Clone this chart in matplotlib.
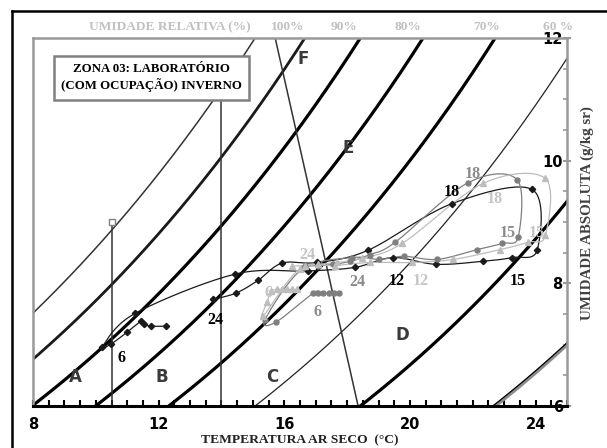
import numpy as np
import matplotlib
matplotlib.use("Agg")
import matplotlib.pyplot as plt
from matplotlib.lines import Line2D
from matplotlib.ticker import MultipleLocator

# ---------------- data ----------------
hours = list(range(1, 25))

# black series (diamonds)
black_T = [12.24, 11.76, 11.54, 11.44, 10.99, 10.48, 10.20, 11.25, 14.43, 16.76, 18.25, 19.46,
           20.83, 22.33, 23.25, 24.05, 23.89, 21.34, 18.67, 17.04, 15.93, 15.17, 14.46, 13.73]
black_w = [7.30, 7.30, 7.33, 7.38, 7.20, 7.01, 6.96, 7.51, 8.15, 8.20, 8.26, 8.42,
           8.31, 8.36, 8.42, 8.54, 9.53, 9.30, 8.54, 8.34, 8.33, 8.05, 7.84, 7.74]

# dark grey series (circles)
dgrey_T = [17.75, 17.59, 17.43, 17.24, 17.08, 16.92, 15.74, 15.39, 16.57, 18.16, 19.02, 19.82,
           20.87, 22.14, 22.94, 23.45, 23.41, 21.85, 19.53, 18.73, 18.10, 17.55, 17.08, 16.66]
dgrey_w = [7.84, 7.84, 7.84, 7.84, 7.84, 7.84, 7.37, 7.41, 8.23, 8.42, 8.39, 8.44,
           8.39, 8.55, 8.65, 8.76, 9.69, 9.64, 8.67, 8.47, 8.36, 8.31, 8.29, 8.28]

# light grey series (triangles)
lgrey_T = [16.41, 16.25, 16.09, 15.93, 15.77, 15.58, 15.45, 15.32, 16.50, 17.62, 18.73, 20.07,
           21.38, 22.87, 23.76, 24.31, 24.31, 22.33, 19.75, 18.48, 17.68, 17.08, 16.66, 16.25]
lgrey_w = [7.90, 7.90, 7.90, 7.90, 7.90, 7.87, 7.69, 7.46, 8.24, 8.29, 8.34, 8.34,
           8.39, 8.55, 8.67, 8.78, 9.71, 9.63, 8.65, 8.41, 8.34, 8.31, 8.29, 8.28]

# hour labels: (hour, dx px, dy px)
black_labels = [(6, 11, 14), (12, 4, 23), (15, 6, 23), (18, 0, -12), (24, 2, 21)]
dgrey_labels = [(6, 4, 19), (15, 5, -10), (18, 5, -9), (24, 52, 16)]
lgrey_labels = [(6, -3, 2), (12, 9, 19), (15, 9, -9), (18, 12, 16), (24, 15, -11)]

# relative humidity curves (%)
rh_levels = [100, 90, 80, 70, 60, 50, 40, 30]
rh_top_labels = ["100%", "90%", "80%", "70%", "60 %"]
rh_top_label_T = [16.12, 17.90, 19.94, 22.43, 24.72]

# comfort zone letters
zone_names = ["A", "B", "C", "D", "E", "F"]
zone_T = [9.34, 12.10, 15.61, 19.75, 18.03, 16.60]
zone_w = [6.47, 6.47, 6.47, 7.15, 10.21, 11.66]

# zone boundary lines
boundary_T = [15.71, 18.35]
boundary_w = [12.0, 6.0]
limit_T_high = 14.0
limit_T_low = 10.5
limit_w_low = 9.0

x_ticks = [8, 12, 16, 20, 24]
y_ticks = [6, 8, 10, 12]

P_ATM = 90.5  # kPa


def sat_pressure(t):
    return 0.6412 * np.exp(0.0652 * t)


def sat_ratio(t):
    ps = sat_pressure(t)
    return 622.0 * ps / (P_ATM - ps)


def smooth(xs, ys, steps=20):
    p = np.column_stack([xs, ys]).astype(float)
    pe = np.vstack([p[0], p, p[-1]])
    t = np.linspace(0, 1, steps, endpoint=False)[:, None]
    out = []
    for i in range(len(p) - 1):
        p0, p1, p2, p3 = pe[i], pe[i + 1], pe[i + 2], pe[i + 3]
        seg = 0.5 * (2 * p1 + (-p0 + p2) * t + (2 * p0 - 5 * p1 + 4 * p2 - p3) * t ** 2
                     + (-p0 + 3 * p1 - 3 * p2 + p3) * t ** 3)
        out.append(seg)
    out.append(p[-1][None, :])
    return np.vstack(out)


SERIF = "Liberation Serif"
SANS = "DejaVu Sans"

W, H = 607, 448
fig = plt.figure(figsize=(W / 100, H / 100), dpi=100)
ax = fig.add_axes([33 / W, 1 - 406 / H, 534 / W, 368 / H])
ax.set_xlim(8, 25)
ax.set_ylim(6, 12)

# relative humidity curves
rh_style = {100: ("#333333", 1.1), 90: ("#1a1a1a", 2.0), 80: ("black", 2.3), 70: ("black", 2.3),
            60: ("black", 2.3), 50: ("#222222", 0.9), 40: ("black", 2.3), 30: ("#8c8c8c", 2.6)}
tt = np.linspace(5, 26, 400)
for rh in rh_levels:
    col, lw = rh_style[rh]
    ax.plot(tt, rh / 100 * sat_ratio(tt), color=col, lw=lw, zorder=2, solid_capstyle="butt")
    if rh == 30:
        ax.plot(tt, rh / 100 * sat_ratio(tt) + 0.03, color="black", lw=0.9, zorder=2)

# zone limits
ax.plot(boundary_T, boundary_w, color="#333333", lw=1.1, zorder=2)
ax.plot([limit_T_high, limit_T_high], [6, 11.0], color="#333333", lw=1.1, zorder=2)
ax.plot([limit_T_low, limit_T_low], [6, limit_w_low], color="#333333", lw=1.1, zorder=2)
ax.plot([limit_T_low], [limit_w_low], marker="s", ms=4, mfc="white", mec="#808080",
        mew=1.0, zorder=3)

for name, zt, zw in zip(zone_names, zone_T, zone_w):
    ax.text(zt, zw, name, ha="center", va="center", fontsize=12, fontweight="heavy",
            family=SANS, color="#3a3a3a", zorder=5)

# daily series
series = [
    (black_T, black_w, "#1a1a1a", "D", 3.2, black_labels, "black"),
    (dgrey_T, dgrey_w, "#7f7f7f", "o", 3.6, dgrey_labels, "#8a8a8a"),
    (lgrey_T, lgrey_w, "#bdbdbd", "^", 4.0, lgrey_labels, "#c4c4c4"),
]
for sT, sw, col, mk, ms, labels, lcol in series:
    curve = smooth(sT, sw)
    ax.plot(curve[:, 0], curve[:, 1], color=col, lw=0.9, zorder=4)
    ax.plot(sT, sw, ls="none", marker=mk, ms=ms, color=col, mec=col, zorder=5)
    for hr, dx, dy in labels:
        i = hours.index(hr)
        ax.annotate(str(hr), xy=(sT[i], sw[i]), xytext=(dx, -dy), textcoords="offset pixels",
                    ha="center", va="center", fontsize=11.5, fontweight="bold", family=SERIF,
                    color=lcol, zorder=6)

# title box
ax.text(11.77, 11.35, "ZONA 03: LABORATÓRIO\n(COM OCUPAÇÃO) INVERNO", ha="center", va="center",
        fontsize=9.3, fontweight="bold", family=SERIF, color="black", linespacing=1.3, zorder=10,
        bbox=dict(boxstyle="square,pad=0.55", fc="white", ec="#808080", lw=1.8))

# relative humidity header
ax.text(12.36, 12.18, "UMIDADE RELATIVA (%)", ha="center", va="center", fontsize=9.6,
        fontweight="bold", family=SERIF, color="#c0c0c0", clip_on=False)
for lab, lt in zip(rh_top_labels, rh_top_label_T):
    ax.text(lt, 12.18, lab, ha="center", va="center", fontsize=9.6, fontweight="bold",
            family=SERIF, color="#c0c0c0", clip_on=False)

# axes styling
for side in ["left", "top", "right"]:
    ax.spines[side].set_color("#999999")
    ax.spines[side].set_linewidth(1.8)
ax.spines["bottom"].set_color("black")
ax.spines["bottom"].set_linewidth(2.2)

ax.set_xticks(x_ticks)
ax.set_xticklabels([str(v) for v in x_ticks])
ax.xaxis.set_minor_locator(MultipleLocator(0.5))
ax.tick_params(axis="x", which="both", direction="in", color="black", width=1.5, length=4, pad=8)
for lbl in ax.get_xticklabels():
    lbl.set_fontfamily(SANS)
    lbl.set_fontweight("bold")
    lbl.set_fontsize(10.5)

ax.yaxis.tick_right()
ax.set_yticks(y_ticks)
ax.set_yticklabels([str(v) for v in y_ticks])
ax.yaxis.set_minor_locator(MultipleLocator(0.5))
ax.tick_params(axis="y", which="major", direction="inout", color="#999999", width=1.5,
               length=6, pad=-6)
ax.tick_params(axis="y", which="minor", direction="in", color="#999999", width=1.2, length=3)
for lbl in ax.get_yticklabels():
    lbl.set_fontfamily(SANS)
    lbl.set_fontweight("bold")
    lbl.set_fontsize(10.5)
    lbl.set_horizontalalignment("right")

fig.text(300 / W, 1 - 440 / H, "TEMPERATURA AR SECO  (°C)", ha="center", va="center",
         fontsize=9.7, fontweight="bold", family=SERIF, color="#222222")
fig.text(587 / W, 1 - 213 / H, "UMIDADE ABSOLUTA (g/kg sr)", ha="center", va="center",
         rotation=90, fontsize=10.8, fontweight="bold", family=SERIF, color="#404040")

# outer frame
fig.add_artist(Line2D([12 / W, 12 / W], [0, 1 - 11 / H], color="black", lw=1.8))
fig.add_artist(Line2D([12 / W, 1], [1 - 11 / H, 1 - 11 / H], color="black", lw=1.8))

fig.savefig("out.png", dpi=100)
